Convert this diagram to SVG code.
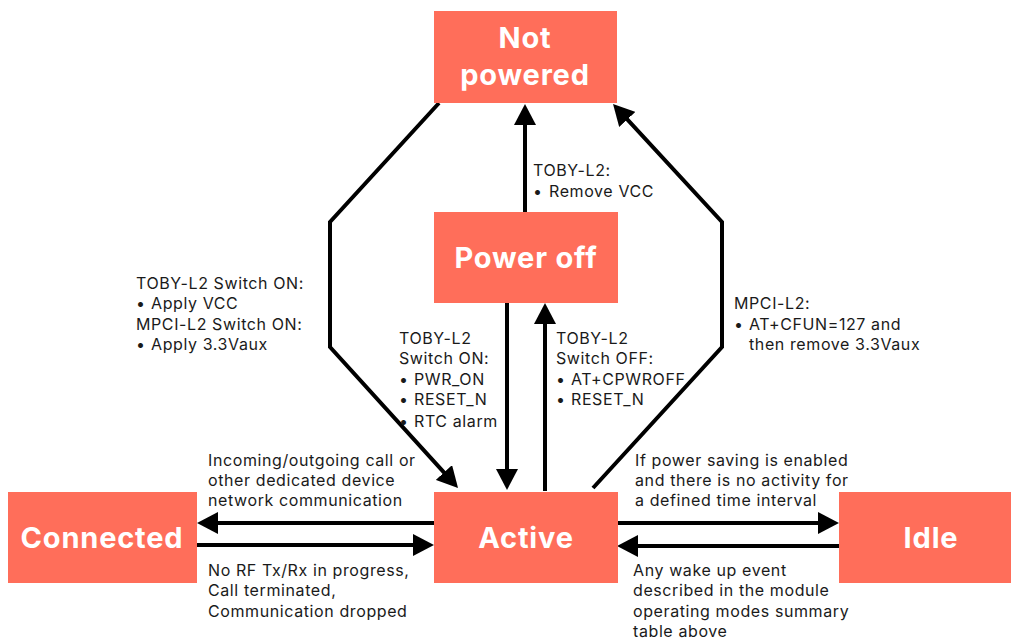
<svg xmlns="http://www.w3.org/2000/svg" width="1011" height="642" viewBox="0 0 1011 642">
<style>
.box{fill:#ff6e5a}
.bt{font-family:Inter,"Open Sans","Liberation Sans",sans-serif;font-weight:700;font-size:29px;letter-spacing:0.8px;fill:#fff;text-anchor:middle}
.lb{font-family:Inter,"Open Sans","Liberation Sans",sans-serif;font-size:16px;letter-spacing:0.6px;fill:#1a1a1a}
.ln{fill:none;stroke:#000;stroke-width:4;marker-end:url(#ah)}
</style>
<defs>
<marker id="ah" viewBox="0 0 21 22" markerWidth="21" markerHeight="22" markerUnits="userSpaceOnUse" refX="1" refY="11" orient="auto">
<path d="M0,0 L21,11 L0,22 Z" fill="#000"/>
</marker>
</defs>
<rect width="1011" height="642" fill="#fff"/>
<g id="connectors">
<path class="ln" d="M525,212 L525,124"/>
<path class="ln" d="M439,103 L330,222 L330,347 L444.6,473.2"/>
<path class="ln" d="M593,488 L722,347 L722,222 L626.6,118.7"/>
<path class="ln" d="M507,303 L507,470"/>
<path class="ln" d="M545,491 L545,323"/>
<path class="ln" d="M434,523 L217,523"/>
<path class="ln" d="M197,545 L414,545"/>
<path class="ln" d="M617,523 L819,523"/>
<path class="ln" d="M839,546 L637,546"/>
</g>
<g id="not-powered">
<rect class="box" x="434" y="11" width="183" height="92"/>
<text class="bt" x="525" y="48">Not</text>
<text class="bt" x="525" y="85">powered</text>
</g>
<g id="power-off">
<rect class="box" x="434" y="212" width="184" height="91"/>
<text class="bt" x="526" y="268">Power off</text>
</g>
<g id="active">
<rect class="box" x="434" y="492" width="184" height="91"/>
<text class="bt" x="526" y="548">Active</text>
</g>
<g id="connected">
<rect class="box" x="8" y="492" width="189" height="91"/>
<text class="bt" x="102" y="548">Connected</text>
</g>
<g id="idle">
<rect class="box" x="839" y="492" width="172" height="91"/>
<text class="bt" x="931" y="548">Idle</text>
</g>
<g id="labels">
<text class="lb" x="533" y="176">TOBY-L2:</text>
<text class="lb" x="533" y="197">•</text><text class="lb" x="549" y="197">Remove VCC</text>

<text class="lb" x="136" y="289">TOBY-L2 Switch ON:</text>
<text class="lb" x="136" y="309">•</text><text class="lb" x="151" y="309">Apply VCC</text>
<text class="lb" x="136" y="330">MPCI-L2 Switch ON:</text>
<text class="lb" x="136" y="350">•</text><text class="lb" x="151" y="350">Apply 3.3Vaux</text>

<text class="lb" x="399" y="344">TOBY-L2</text>
<text class="lb" x="399" y="364">Switch ON:</text>
<text class="lb" x="399" y="385">•</text><text class="lb" x="414" y="385">PWR_ON</text>
<text class="lb" x="399" y="405">•</text><text class="lb" x="414" y="405">RESET_N</text>
<text class="lb" x="399" y="427">•</text><text class="lb" x="414" y="427">RTC alarm</text>

<text class="lb" x="556" y="344">TOBY-L2</text>
<text class="lb" x="556" y="364">Switch OFF:</text>
<text class="lb" x="556" y="385">•</text><text class="lb" x="571" y="385">AT+CPWROFF</text>
<text class="lb" x="556" y="405">•</text><text class="lb" x="571" y="405">RESET_N</text>

<text class="lb" x="734" y="309">MPCI-L2:</text>
<text class="lb" x="734" y="330">•</text><text class="lb" x="749" y="330">AT+CFUN=127 and</text>
<text class="lb" x="749" y="350">then remove 3.3Vaux</text>

<text class="lb" x="208" y="466">Incoming/outgoing call or</text>
<text class="lb" x="208" y="486">other dedicated device</text>
<text class="lb" x="208" y="506">network communication</text>

<text class="lb" x="208" y="576">No RF Tx/Rx in progress,</text>
<text class="lb" x="208" y="596">Call terminated,</text>
<text class="lb" x="208" y="617">Communication dropped</text>

<text class="lb" x="635" y="466">If power saving is enabled</text>
<text class="lb" x="635" y="486">and there is no activity for</text>
<text class="lb" x="635" y="506">a defined time interval</text>

<text class="lb" x="633" y="576">Any wake up event</text>
<text class="lb" x="633" y="596">described in the module</text>
<text class="lb" x="633" y="617">operating modes summary</text>
<text class="lb" x="633" y="637">table above</text>
</g>
</svg>
